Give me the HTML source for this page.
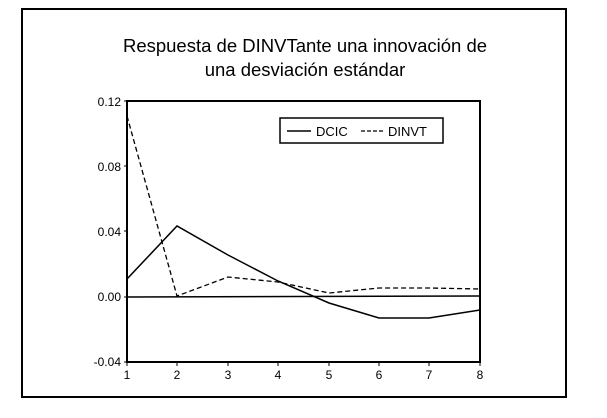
<!DOCTYPE html>
<html><head><style>body{margin:0;background:#fff}</style></head><body>
<svg width="607" height="413" xmlns="http://www.w3.org/2000/svg" font-family="Liberation Sans, Arial, sans-serif">
<rect width="607" height="413" fill="#fff"/>
<rect x="22" y="9" width="544" height="388" fill="none" stroke="#000" stroke-width="2"/>
<text x="305" y="52" font-size="18.5" text-anchor="middle">Respuesta de DINVTante una innovación de</text>
<text x="305" y="76" font-size="18.5" text-anchor="middle">una desviación estándar</text>
<rect x="127" y="101" width="353" height="261" fill="none" stroke="#000" stroke-width="2"/>
<g stroke="#000" stroke-width="1">
<line x1="124" y1="101" x2="127" y2="101"/><line x1="124" y1="166" x2="127" y2="166"/><line x1="124" y1="231" x2="127" y2="231"/><line x1="124" y1="297" x2="127" y2="297"/><line x1="124" y1="362" x2="127" y2="362"/>
<line x1="127" y1="362" x2="127" y2="366"/><line x1="177" y1="362" x2="177" y2="366"/><line x1="228" y1="362" x2="228" y2="366"/><line x1="278" y1="362" x2="278" y2="366"/><line x1="329" y1="362" x2="329" y2="366"/><line x1="379" y1="362" x2="379" y2="366"/><line x1="429" y1="362" x2="429" y2="366"/><line x1="480" y1="362" x2="480" y2="366"/>
</g>
<g font-size="12" text-anchor="end">
<text x="121" y="106">0.12</text><text x="121" y="171">0.08</text><text x="121" y="236">0.04</text><text x="121" y="301">0.00</text><text x="121" y="366">-0.04</text>
</g>
<g font-size="12" text-anchor="middle">
<text x="127" y="379">1</text><text x="177" y="379">2</text><text x="228" y="379">3</text><text x="278" y="379">4</text><text x="329" y="379">5</text><text x="379" y="379">6</text><text x="429" y="379">7</text><text x="480" y="379">8</text>
</g>
<line x1="127" y1="297" x2="480" y2="296" stroke="#000" stroke-width="1.5"/>
<polyline fill="none" stroke="#000" stroke-width="1.5" points="127,279 177,226 228,255 278,281 329,303 379,318 429,318 480,310"/>
<polyline fill="none" stroke="#000" stroke-width="1.3" stroke-dasharray="5,3" points="127,116 177,296 228,277 278,282 329,293 379,288 429,288 480,289"/>
<rect x="280" y="118" width="163" height="25" fill="#fff" stroke="#000" stroke-width="1.5"/>
<line x1="287" y1="131" x2="311" y2="131" stroke="#000" stroke-width="1.5"/>
<text x="316" y="136" font-size="13">DCIC</text>
<line x1="361" y1="131" x2="385" y2="131" stroke="#000" stroke-width="1.3" stroke-dasharray="4,2"/>
<text x="388" y="136" font-size="13">DINVT</text>
</svg>
</body></html>
